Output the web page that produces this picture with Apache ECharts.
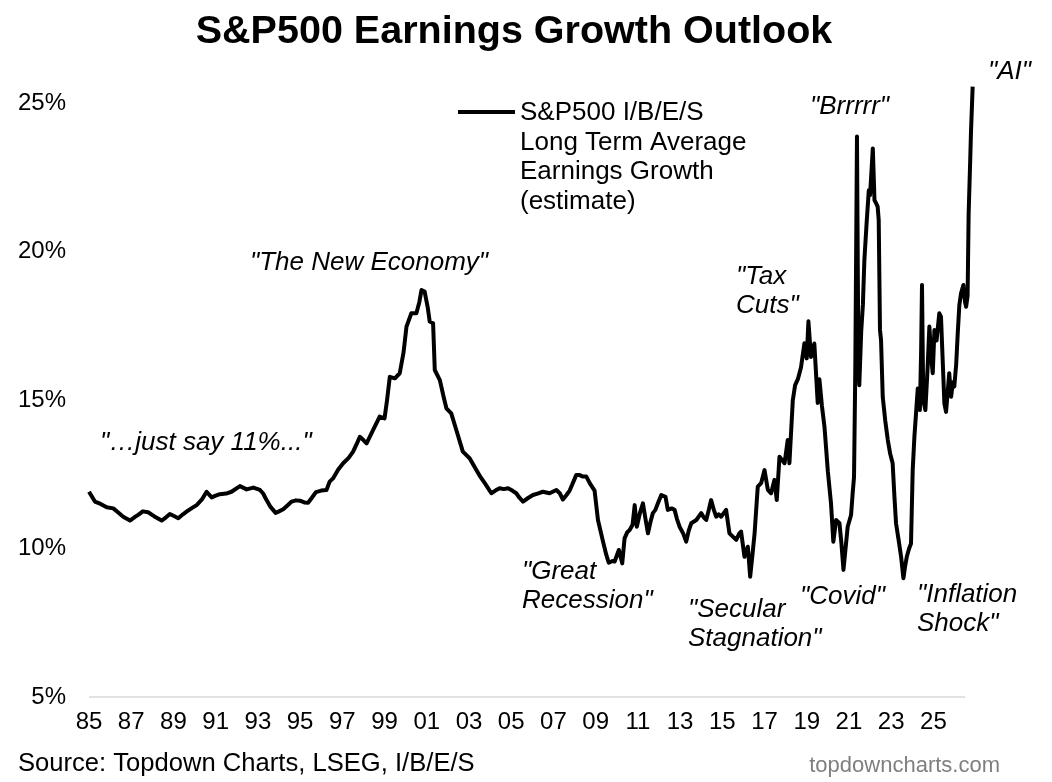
<!DOCTYPE html>
<html>
<head>
<meta charset="UTF-8">
<title>S&amp;P500 Earnings Growth Outlook</title>
<script src="https://cdn.jsdelivr.net/npm/echarts@6/dist/echarts.min.js"></script>
<style>
  html, body { margin: 0; padding: 0; background: #fff; }
  #main { width: 1052px; height: 782px; }
</style>
</head>
<body>
<div id="main"></div>
<script>
// dates as decimal years, values in %
var dates = [
  1985.00, 1985.28, 1985.55, 1985.84, 1986.15, 1986.40, 1986.62, 1986.94, 1987.15, 1987.33,
  1987.55, 1987.80, 1988.10, 1988.44, 1988.65, 1988.83, 1989.00, 1989.23, 1989.45, 1989.62,
  1989.85, 1990.10, 1990.35, 1990.57, 1990.81, 1991.00, 1991.20, 1991.50, 1991.75, 1992.15,
  1992.47, 1992.78, 1993.10, 1993.25, 1993.41, 1993.60, 1993.84, 1994.00, 1994.20, 1994.40,
  1994.60, 1994.80, 1994.99, 1995.20, 1995.38, 1995.55, 1995.75, 1996.00, 1996.25, 1996.40,
  1996.56, 1996.80, 1997.04, 1997.30, 1997.51, 1997.70, 1997.83, 1998.00, 1998.15, 1998.46,
  1998.77, 1999.00, 1999.12, 1999.25, 1999.49, 1999.72, 1999.90, 2000.04, 2000.27, 2000.51,
  2000.65, 2000.75, 2000.90, 2001.05, 2001.14, 2001.30, 2001.38, 2001.62, 2001.80, 2001.93,
  2002.16, 2002.40, 2002.71, 2003.03, 2003.35, 2003.55, 2003.75, 2004.06, 2004.25, 2004.45,
  2004.65, 2004.85, 2005.05, 2005.24, 2005.40, 2005.56, 2005.80, 2006.03, 2006.25, 2006.50,
  2006.82, 2007.14, 2007.30, 2007.45, 2007.62, 2007.77, 2008.08, 2008.24, 2008.40, 2008.56,
  2008.72, 2008.79, 2008.95, 2009.11, 2009.35, 2009.50, 2009.62, 2009.80, 2009.90, 2010.10,
  2010.26, 2010.37, 2010.50, 2010.61, 2010.75, 2010.85, 2010.95, 2011.10, 2011.24, 2011.36,
  2011.48, 2011.60, 2011.71, 2011.83, 2011.95, 2012.11, 2012.31, 2012.42, 2012.60, 2012.74,
  2012.85, 2012.98, 2013.15, 2013.29, 2013.41, 2013.53, 2013.77, 2014.00, 2014.12, 2014.24,
  2014.36, 2014.47, 2014.60, 2014.71, 2014.83, 2014.95, 2015.18, 2015.26, 2015.34, 2015.50,
  2015.66, 2015.80, 2015.89, 2016.05, 2016.21, 2016.32, 2016.43, 2016.53, 2016.68, 2016.84,
  2017.00, 2017.16, 2017.31, 2017.47, 2017.58, 2017.71, 2017.95, 2018.10, 2018.18, 2018.34,
  2018.45, 2018.58, 2018.73, 2018.89, 2019.00, 2019.08, 2019.20, 2019.36, 2019.52, 2019.60,
  2019.72, 2019.84, 2020.00, 2020.15, 2020.26, 2020.39, 2020.55, 2020.64, 2020.74, 2020.94,
  2021.10, 2021.18, 2021.24, 2021.30, 2021.38, 2021.44, 2021.49, 2021.58, 2021.66, 2021.73,
  2021.84, 2021.94, 2022.00, 2022.05, 2022.13, 2022.21, 2022.30, 2022.36, 2022.41, 2022.47,
  2022.52, 2022.60, 2022.72, 2022.84, 2022.95, 2023.07, 2023.15, 2023.23, 2023.35, 2023.47,
  2023.58, 2023.66, 2023.74, 2023.85, 2023.94, 2024.02, 2024.10, 2024.26, 2024.36, 2024.42,
  2024.46, 2024.52, 2024.62, 2024.72, 2024.81, 2024.90, 2024.97, 2025.05, 2025.15, 2025.28,
  2025.36, 2025.44, 2025.52, 2025.60, 2025.68, 2025.75, 2025.84, 2025.92, 2025.99, 2026.08,
  2026.15, 2026.23, 2026.31, 2026.42, 2026.50, 2026.55, 2026.62, 2026.67, 2026.74, 2026.78,
  2026.86
];
var ltgGrowth = [
  11.91, 11.58, 11.50, 11.39, 11.35, 11.20, 11.07, 10.94, 11.05, 11.13,
  11.25, 11.22, 11.08, 10.94, 11.05, 11.16, 11.10, 11.02, 11.15, 11.24,
  11.35, 11.46, 11.65, 11.91, 11.72, 11.78, 11.83, 11.85, 11.91, 12.10,
  11.99, 12.05, 11.97, 11.85, 11.63, 11.40, 11.20, 11.25, 11.32, 11.45,
  11.58, 11.62, 11.61, 11.55, 11.54, 11.70, 11.90, 11.95, 11.97, 12.25,
  12.36, 12.65, 12.87, 13.05, 13.26, 13.55, 13.76, 13.65, 13.54, 13.99,
  14.44, 14.38, 15.00, 15.78, 15.73, 15.90, 16.60, 17.47, 17.92, 17.92,
  18.30, 18.70, 18.65, 18.10, 17.64, 17.58, 16.01, 15.67, 15.10, 14.72,
  14.55, 13.99, 13.26, 13.04, 12.64, 12.40, 12.20, 11.86, 11.95, 12.03,
  12.00, 12.03, 11.95, 11.86, 11.70, 11.58, 11.70, 11.80, 11.85, 11.91,
  11.86, 11.97, 11.86, 11.65, 11.80, 11.95, 12.47, 12.47, 12.42, 12.42,
  12.20, 12.25, 11.95, 10.96, 10.23, 9.80, 9.52, 9.58, 9.56, 9.95,
  9.50, 10.34, 10.55, 10.62, 10.80, 11.46, 10.73, 11.20, 11.52, 11.00,
  10.51, 10.90, 11.19, 11.30, 11.52, 11.80, 11.74, 11.30, 11.35, 11.30,
  11.00, 10.73, 10.50, 10.23, 10.60, 10.85, 10.96, 11.19, 11.05, 10.96,
  11.30, 11.63, 11.30, 11.07, 11.15, 11.07, 11.30, 10.90, 10.51, 10.40,
  10.29, 10.50, 10.57, 9.72, 10.06, 9.05, 9.80, 10.51, 12.08, 12.20,
  12.64, 11.97, 11.86, 12.31, 11.63, 13.09, 12.87, 13.65, 12.87, 14.99,
  15.50, 15.70, 16.10, 16.91, 16.40, 17.65, 16.45, 16.90, 14.90, 15.70,
  14.80, 14.10, 12.60, 11.52, 10.23, 10.96, 10.85, 10.20, 9.28, 10.73,
  11.13, 11.90, 12.40, 16.00, 23.87, 17.00, 15.50, 17.30, 18.20, 19.70,
  21.00, 22.06, 21.90, 21.84, 23.47, 21.73, 21.60, 21.51, 21.06, 17.36,
  17.02, 15.11, 14.30, 13.65, 13.20, 12.87, 11.80, 10.85, 10.30, 9.72,
  9.00, 9.40, 9.72, 10.00, 10.17, 12.64, 13.76, 15.39, 14.66, 16.68,
  18.87, 15.00, 14.66, 16.00, 17.47, 16.40, 15.90, 17.36, 17.00, 17.92,
  17.80, 17.86, 14.89, 14.60, 15.30, 15.90, 15.11, 15.60, 15.45, 16.20,
  17.20, 18.20, 18.59, 18.87, 18.30, 18.14, 18.50, 21.28, 22.97, 24.00,
  25.55
];
var yTicks = [5, 10, 15, 20, 25];
var axisEnd = 2026.5;   // where the grey baseline stops

var seriesData = [];
for (var i = 0; i < dates.length; i++) {
  seriesData.push([dates[i], ltgGrowth[i]]);
}

var FONT = '"Liberation Sans", Arial, sans-serif';

var notes = [
  {x: 100, y: 443, text: '"…just say 11%..."'},
  {x: 250, y: 263, text: '"The New Economy"'},
  {x: 736, y: 277, text: '"Tax\nCuts"'},
  {x: 810, y: 107, text: '"Brrrrr"'},
  {x: 988, y: 72, text: '"AI"'},
  {x: 522, y: 572, text: '"Great\nRecession"'},
  {x: 688, y: 610, text: '"Secular\nStagnation"'},
  {x: 800, y: 597, text: '"Covid"'},
  {x: 917, y: 595, text: '"Inflation\nShock"'}
];

var graphics = [
  {type: 'text', x: 514, y: 12,
   style: {text: 'S&P500 Earnings Growth Outlook', font: 'bold 39.5px ' + FONT,
           fill: '#000', align: 'center'}},
  {type: 'line', shape: {x1: 458, y1: 112, x2: 515, y2: 112},
   style: {stroke: '#000', lineWidth: 4}},
  {type: 'text', x: 520, y: 98,
   style: {text: 'S&P500 I/B/E/S\nLong Term Average\nEarnings Growth\n(estimate)',
           font: '26px ' + FONT, lineHeight: 29.6, fill: '#000'}},
  {type: 'text', x: 18, y: 764,
   style: {text: 'Source: Topdown Charts, LSEG, I/B/E/S', font: '25.6px ' + FONT,
           fill: '#000', verticalAlign: 'middle'}},
  {type: 'text', x: 1000, y: 766,
   style: {text: 'topdowncharts.com', font: '22px ' + FONT, fill: '#7f7f7f',
           align: 'right', verticalAlign: 'middle'}}
];
notes.forEach(function (n) {
  graphics.push({type: 'text', x: n.x, y: n.y - 15,
    style: {text: n.text, font: 'italic 26px ' + FONT, lineHeight: 29.5, fill: '#000'}});
});

var myChart = echarts.init(document.getElementById('main'));
var option = {
  animation: false,
  backgroundColor: '#fff',
  grid: {left: 89, right: 78.5, top: 28.7, bottom: 85, containLabel: false},
  xAxis: {
    type: 'value',
    min: 1985,
    max: 2026.9,
    interval: 2,
    axisLine: {show: false},
    axisTick: {show: false},
    splitLine: {show: false},
    axisLabel: {
      margin: 13,
      fontSize: 24,
      fontFamily: FONT,
      color: '#000',
      formatter: function (v) {
        if (v % 2 !== 1) return '';
        var yy = v % 100;
        return (yy < 10 ? '0' : '') + yy;
      }
    }
  },
  yAxis: {
    type: 'value',
    min: 5,
    max: 27.5,
    interval: 5,
    axisLine: {show: false},
    axisTick: {show: false},
    splitLine: {show: false},
    axisLabel: {
      margin: 23,
      fontSize: 24,
      fontFamily: FONT,
      color: '#000',
      formatter: function (v) {
        return yTicks.indexOf(v) >= 0 ? v + '%' : '';
      }
    }
  },
  series: [{
    name: 'S&P500 I/B/E/S Long Term Average Earnings Growth (estimate)',
    type: 'line',
    data: seriesData,
    showSymbol: false,
    z: 3,
    lineStyle: {color: '#000', width: 4, join: 'round'},
    markLine: {
      silent: true,
      symbol: 'none',
      label: {show: false},
      lineStyle: {color: '#d9d9d9', width: 1.5, type: 'solid'},
      z: 1,
      data: [[{coord: [1985, 5]}, {coord: [axisEnd, 5]}]]
    }
  }],
  graphic: graphics
};
myChart.setOption(option, true);
</script>
</body>
</html>
